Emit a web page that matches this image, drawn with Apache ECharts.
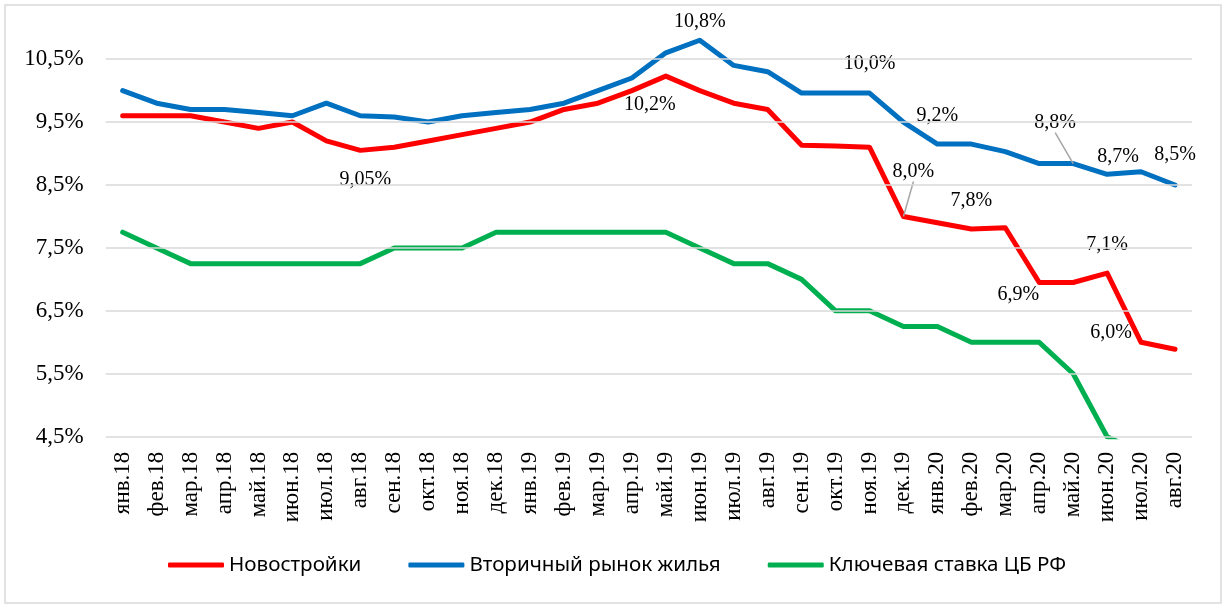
<!DOCTYPE html>
<html>
<head>
<meta charset="utf-8">
<script src="https://cdn.jsdelivr.net/npm/echarts@6/dist/echarts.min.js"></script>
<style>
html,body{margin:0;padding:0;background:#fff;}
#chart{width:1228px;height:610px;}
</style>
</head>
<body>
<div id="chart"></div>
<script>
const categories = ['янв.18','фев.18','мар.18','апр.18','май.18','июн.18','июл.18','авг.18','сен.18','окт.18','ноя.18','дек.18',
  'янв.19','фев.19','мар.19','апр.19','май.19','июн.19','июл.19','авг.19','сен.19','окт.19','ноя.19','дек.19',
  'янв.20','фев.20','мар.20','апр.20','май.20','июн.20','июл.20','авг.20'];
const newBuild = [9.6,9.6,9.6,9.5,9.4,9.5,9.2,9.05,9.1,9.2,9.3,9.4,9.5,9.7,9.8,10.0,10.23,10.0,9.8,9.7,9.13,9.12,9.1,8.0,7.9,7.8,7.82,6.95,6.95,7.1,6.0,5.89];
const secondary = [10.0,9.8,9.7,9.7,9.65,9.6,9.8,9.6,9.58,9.5,9.6,9.65,9.7,9.8,10.0,10.2,10.6,10.8,10.4,10.3,9.96,9.96,9.96,9.5,9.15,9.15,9.03,8.84,8.84,8.67,8.71,8.5];
const keyRate = [7.75,7.5,7.25,7.25,7.25,7.25,7.25,7.25,7.5,7.5,7.5,7.75,7.75,7.75,7.75,7.75,7.75,7.5,7.25,7.25,7.0,6.5,6.5,6.25,6.25,6.0,6.0,6.0,5.5,4.5,4.25,4.25];
const gridTicks = [4.5,5.5,6.5,7.5,8.5,9.5,10.5];
const newBuildLabels = {7:'9,05%',16:'10,2%',23:'8,0%',25:'7,8%',27:'6,9%',29:'7,1%',30:'6,0%'};
const secondaryLabels = {17:'10,8%',22:'10,0%',24:'9,2%',28:'8,8%',29:'8,7%',31:'8,5%'};
const seriesNames = ['Новостройки','Вторичный рынок жилья','Ключевая ставка ЦБ РФ'];

// label placement (style)
const newBuildOffsets = {7:[5,29],16:[-16,29],23:[10,-45],25:[0,-28],27:[-21,12],29:[0,-28],30:[-30,-10]};
const secondaryOffsets = {17:[0,-18],22:[0,-29],24:[0,-28],28:[-18,-41],29:[11,-18],31:[0,-30]};
const leaderNew = {23:true};
const leaderSec = {28:true};

const labelFont = {fontFamily:'Liberation Serif', fontSize:20, color:'#000'};

function buildData(values, labels, offsets, leaders){
  return values.map((v,i)=>{
    if(labels[i] === undefined) return v;
    const item = {value:v, label:Object.assign({show:true, position:'inside', offset:offsets[i], formatter:labels[i]}, labelFont)};
    if(leaders[i]) item.labelLine = {show:true, lineStyle:{color:'#a6a6a6', width:1.5}};
    return item;
  });
}

const chart = echarts.init(document.getElementById('chart'), null, {renderer:'canvas'});
const lineBase = {type:'line', symbol:'circle', symbolSize:0, showSymbol:true, smooth:false, label:{show:false}, z:3};

chart.setOption({
  animation:false,
  backgroundColor:'#fff',
  graphic:[{type:'rect', shape:{x:5, y:5, width:1216, height:598}, style:{fill:'none', stroke:'#d9d9d9', lineWidth:1.5}, silent:true, z:-1}],
  grid:{left:105.7, right:36, top:5, bottom:173.3},
  legend:{
    data:seriesNames, top:553, left:168, padding:0, itemGap:47, itemWidth:56, itemHeight:5, icon:'roundRect',
    textStyle:{fontFamily:'Noto Sans', fontSize:20.6, color:'#000', lineHeight:24}
  },
  xAxis:{
    type:'category', data:categories, boundaryGap:true,
    axisLine:{show:false}, axisTick:{show:false},
    axisLabel:{rotate:90, interval:0, margin:15, fontFamily:'Liberation Serif', fontSize:23, color:'#000'}
  },
  yAxis:{
    type:'value', min:4.5, max:11.36, interval:0.5,
    axisLine:{show:false}, axisTick:{show:false}, splitLine:{show:false},
    axisLabel:{
      margin:22, fontFamily:'Liberation Serif', fontSize:23, color:'#000',
      formatter:function(v){
        const f = v - Math.floor(v);
        if(Math.abs(f-0.5) < 1e-6 && v <= 10.5 + 1e-6) return v.toFixed(1).replace('.', ',') + '%';
        return '';
      }
    }
  },
  series:[
    {name:'grid', type:'line', data:[], silent:true, z:1,
     markLine:{silent:true, symbol:['none','none'], label:{show:false}, lineStyle:{color:'#d9d9d9', width:1.5, type:'solid'},
       data:gridTicks.map(v=>({yAxis:v}))}},
    Object.assign({}, lineBase, {name:seriesNames[0], data:buildData(newBuild, newBuildLabels, newBuildOffsets, leaderNew),
      itemStyle:{color:'#ff0000'}, lineStyle:{color:'#ff0000', width:5, cap:'round', join:'round'}}),
    Object.assign({}, lineBase, {name:seriesNames[1], data:buildData(secondary, secondaryLabels, secondaryOffsets, leaderSec),
      itemStyle:{color:'#0070c0'}, lineStyle:{color:'#0070c0', width:5, cap:'round', join:'round'}}),
    Object.assign({}, lineBase, {name:seriesNames[2], data:keyRate,
      itemStyle:{color:'#00b050'}, lineStyle:{color:'#00b050', width:5, cap:'round', join:'round'}})
  ]
});
</script>
</body>
</html>
